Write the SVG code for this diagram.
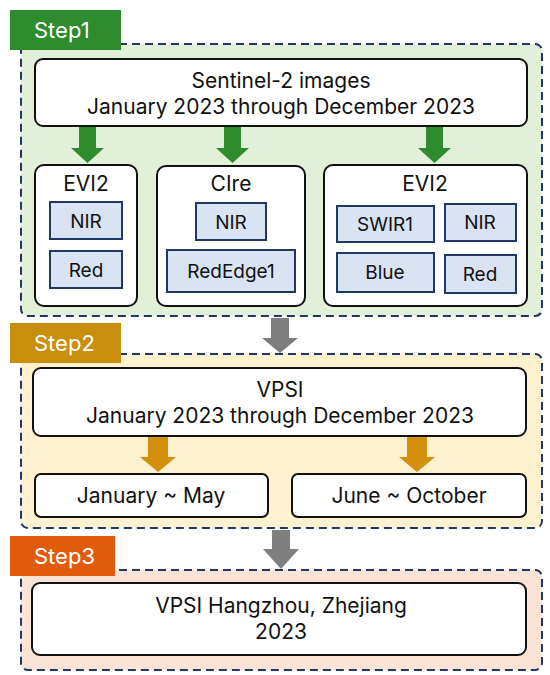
<svg xmlns="http://www.w3.org/2000/svg" width="550" height="675" viewBox="0 0 550 675">
<style>
text{font-family:Inter,"Noto Sans","DejaVu Sans",sans-serif;fill:#111;text-anchor:middle}
.panel{stroke:#1f3864;stroke-width:2;stroke-dasharray:8,5}
.box{fill:#fff;stroke:#111;stroke-width:2}
.band{fill:#dae3f3;stroke:#1f3864;stroke-width:2}
.t22{font-size:21px}
.t20{font-size:19px}
.lbl{font-size:22px;fill:#fff;text-anchor:start}
</style>
<rect width="550" height="675" fill="#fff"/>
<g id="step1">
<rect class="panel" x="21" y="44" width="521" height="272" rx="7" fill="#e2f0d9"/>
<rect x="10" y="10" width="111" height="40" fill="#2e8b2e"/>
<text class="lbl" x="34" y="38">Step1</text>
</g>
<g id="step2">
<rect class="panel" x="21" y="354" width="521" height="174" rx="7" fill="#fdf1cf"/>
<rect x="10" y="323" width="111" height="40" fill="#c98f0c"/>
<text class="lbl" x="34" y="351">Step2</text>
</g>
<g id="step3">
<rect class="panel" x="21" y="570" width="521" height="100" rx="7" fill="#fbe4d6"/>
<rect x="10" y="536" width="105" height="40" fill="#e05c0c"/>
<text class="lbl" x="34" y="564">Step3</text>
</g>
<g id="connectors">
<path d="M79 127h17v21h8l-16.5 15l-16.5-15h8z" fill="#2e8b2e"/>
<path d="M224 127h17v21h8l-16.5 15l-16.5-15h8z" fill="#2e8b2e"/>
<path d="M426 127h17v21h8l-16.5 15l-16.5-15h8z" fill="#2e8b2e"/>
<path d="M271 318h18v20h9l-18 15l-18-15h9z" fill="#7f7f7f"/>
<path d="M148 437h20v20h8l-18 15l-18-15h8z" fill="#d4900a"/>
<path d="M407 437h20v20h8l-18 15l-18-15h8z" fill="#d4900a"/>
<path d="M272 530h18v19h9l-18 20l-18-20h9z" fill="#7f7f7f"/>
</g>
<g id="sentinel">
<rect class="box" x="35" y="59" width="492" height="67" rx="8"/>
<text class="t22" x="281" y="88">Sentinel-2 images</text>
<text class="t22" x="281" y="114">January 2023 through December 2023</text>
</g>
<g id="evi2a">
<rect class="box" x="35" y="165" width="102" height="141" rx="9"/>
<text class="t22" x="86" y="191">EVI2</text>
<rect class="band" x="50" y="202" width="72" height="37"/>
<text class="t20" x="86" y="228">NIR</text>
<rect class="band" x="50" y="251" width="72" height="37"/>
<text class="t20" x="86" y="277">Red</text>
</g>
<g id="cire">
<rect class="box" x="157" y="166" width="148" height="140" rx="9"/>
<text class="t22" x="231" y="191">CIre</text>
<rect class="band" x="196" y="203" width="70" height="37"/>
<text class="t20" x="231" y="229">NIR</text>
<rect class="band" x="167" y="250" width="128" height="42"/>
<text class="t20" x="231" y="278">RedEdge1</text>
</g>
<g id="evi2b">
<rect class="box" x="324" y="165" width="203" height="141" rx="9"/>
<text class="t22" x="425" y="191">EVI2</text>
<rect class="band" x="337" y="206" width="97" height="36"/>
<text class="t20" x="385" y="231">SWIR1</text>
<rect class="band" x="445" y="204" width="71" height="37"/>
<text class="t20" x="480" y="229">NIR</text>
<rect class="band" x="337" y="253" width="97" height="39"/>
<text class="t20" x="385" y="279">Blue</text>
<rect class="band" x="445" y="255" width="71" height="38"/>
<text class="t20" x="480" y="281">Red</text>
</g>
<g id="vpsi">
<rect class="box" x="33" y="368" width="493" height="68" rx="8"/>
<text class="t22" x="280" y="397">VPSI</text>
<text class="t22" x="280" y="423">January 2023 through December 2023</text>
</g>
<g id="janmay">
<rect class="box" x="35" y="474" width="233" height="43" rx="6"/>
<text class="t22" x="151" y="503">January ~ May</text>
</g>
<g id="junoct">
<rect class="box" x="292" y="474" width="234" height="43" rx="6"/>
<text class="t22" x="409" y="503">June ~ October</text>
</g>
<g id="hangzhou">
<rect class="box" x="32" y="583" width="494" height="72" rx="8"/>
<text class="t22" x="281" y="613">VPSI Hangzhou, Zhejiang</text>
<text class="t22" x="281" y="639">2023</text>
</g>
</svg>
